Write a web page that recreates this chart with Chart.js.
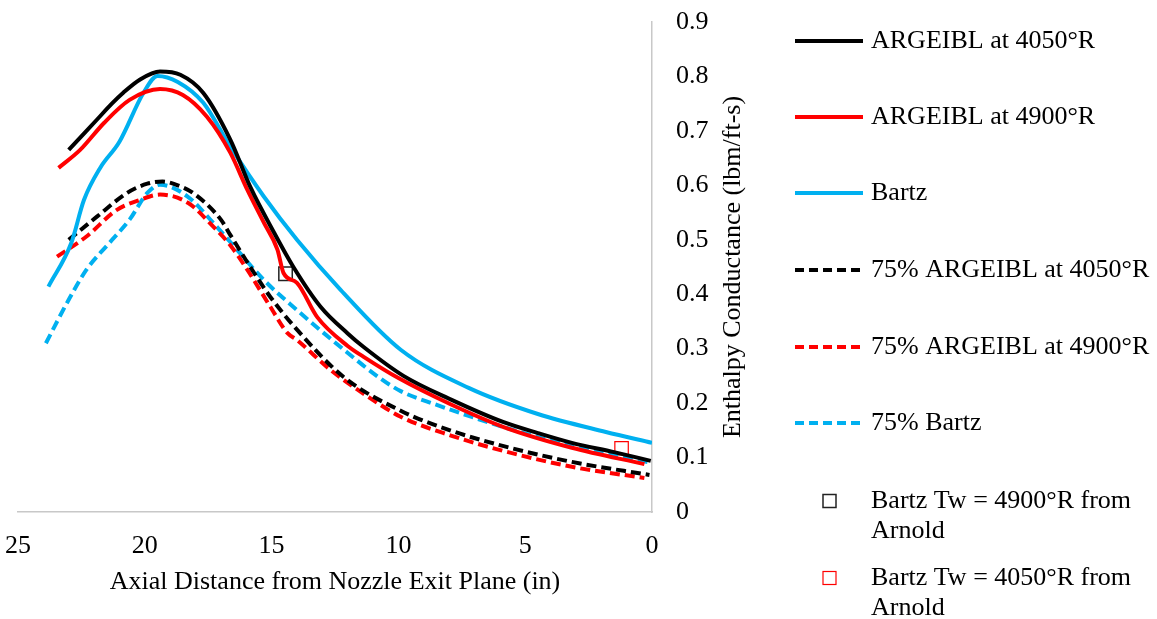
<!DOCTYPE html>
<html>
<head>
<meta charset="utf-8">
<script src="https://cdn.jsdelivr.net/npm/chart.js@4.4.1/dist/chart.umd.min.js"></script>
<style>
  html, body { margin: 0; padding: 0; background: #fff; }
  #wrap { width: 1157px; height: 619px; position: relative; }
</style>
</head>
<body>
<div id="wrap"><canvas id="chart" width="1157" height="619"></canvas></div>
<script>
// axial distance (in) and enthalpy conductance (lbm/ft-s)
const argeibl4050X = [23.0, 22.4, 21.9, 21.3, 20.85, 20.2, 19.4, 18.6, 17.7, 16.63, 15.84, 14.9, 14.14, 13.07, 12.0, 11.37, 9.8, 7.9, 5.85, 4.5, 3.16, 1.5, 0.05];
const argeibl4050Y = [0.665, 0.695, 0.72, 0.75, 0.77, 0.794, 0.809, 0.803, 0.77, 0.684, 0.597, 0.513, 0.45, 0.377, 0.328, 0.303, 0.25, 0.206, 0.165, 0.145, 0.127, 0.11, 0.094];

const argeibl4900X = [23.4, 22.55, 21.6, 20.6, 19.4, 18.5, 17.55, 16.63, 15.96, 15.3, 14.77, 14.53, 14.0, 13.2, 12.0, 11.37, 10.0, 7.9, 5.85, 3.16, 0.3];
const argeibl4900Y = [0.632, 0.665, 0.715, 0.757, 0.777, 0.766, 0.726, 0.66, 0.592, 0.531, 0.482, 0.439, 0.421, 0.358, 0.305, 0.285, 0.246, 0.197, 0.156, 0.118, 0.088];

const bartzX = [23.8, 22.9, 22.4, 21.76, 21.0, 20.05, 19.5, 18.7, 17.7, 16.63, 15.3, 14.0, 12.28, 9.91, 7.23, 4.5, 1.82, 0];
const bartzY = [0.414, 0.494, 0.573, 0.632, 0.68, 0.77, 0.801, 0.79, 0.752, 0.671, 0.579, 0.5, 0.408, 0.298, 0.228, 0.18, 0.147, 0.127];

const argeibl4050_75X = [23.0, 21.9, 20.7, 19.9, 19.3, 18.7, 18.1, 17.0, 16.63, 15.84, 15.05, 14.0, 12.16, 9.91, 7.9, 5.85, 3.16, 0.1];
const argeibl4050_75Y = [0.5, 0.542, 0.586, 0.603, 0.607, 0.6, 0.586, 0.537, 0.509, 0.45, 0.395, 0.335, 0.248, 0.186, 0.149, 0.121, 0.092, 0.068];

const argeibl4900_75X = [23.46, 22.3, 21.1, 20.2, 19.4, 18.3, 17.3, 16.63, 15.96, 15.05, 14.38, 14.0, 12.68, 11.3, 9.91, 7.9, 5.85, 3.16, 0.3];
const argeibl4900_75Y = [0.469, 0.506, 0.555, 0.573, 0.583, 0.568, 0.524, 0.49, 0.445, 0.377, 0.329, 0.316, 0.261, 0.215, 0.175, 0.14, 0.112, 0.083, 0.0625];

const bartz75X = [23.9, 23.07, 22.3, 21.4, 20.6, 19.9, 19.4, 18.3, 17.3, 16.63, 15.3, 14.0, 12.28, 10.7, 9.91, 8.57, 5.85, 3.16, 0];
const bartz75Y = [0.31, 0.384, 0.445, 0.494, 0.537, 0.586, 0.601, 0.579, 0.531, 0.496, 0.426, 0.371, 0.303, 0.245, 0.222, 0.198, 0.156, 0.121, 0.09];

// Arnold's Bartz points
const arnold4900X = [14.45];
const arnold4900Y = [0.4375];
const arnold4050X = [1.2];
const arnold4050Y = [0.117];

const xTicks = [25, 20, 15, 10, 5, 0];
const yTicks = [0, 0.1, 0.2, 0.3, 0.4, 0.5, 0.6, 0.7, 0.8, 0.9];

const FONT = "'Liberation Serif', 'Times New Roman', serif";

function pts(xs, ys) {
    return xs.map((x, i) => ({ x: x, y: ys[i] }));
}

function lineSet(label, xs, ys, color, dashed) {
    return {
        type: 'line',
        label: label,
        data: pts(xs, ys),
        borderColor: color,
        backgroundColor: color,
        borderWidth: 4,
        borderDash: dashed ? [10, 5] : [],
        pointRadius: 0,
        cubicInterpolationMode: 'monotone',
        fill: false,
    };
}

function markerSet(label, xs, ys, color, width) {
    return {
        type: 'scatter',
        label: label,
        data: pts(xs, ys),
        pointStyle: 'rect',
        pointRadius: 9.5,
        pointBorderColor: color,
        pointBackgroundColor: 'rgba(0,0,0,0)',
        pointBorderWidth: width,
        borderColor: color,
        showLine: false,
    };
}

const datasets = [
    lineSet('ARGEIBL at 4050°R', argeibl4050X, argeibl4050Y, '#000000', false),
    lineSet('ARGEIBL at 4900°R', argeibl4900X, argeibl4900Y, '#ff0000', false),
    lineSet('Bartz', bartzX, bartzY, '#00b0f0', false),
    lineSet('75% ARGEIBL at 4050°R', argeibl4050_75X, argeibl4050_75Y, '#000000', true),
    lineSet('75% ARGEIBL at 4900°R', argeibl4900_75X, argeibl4900_75Y, '#ff0000', true),
    lineSet('75% Bartz', bartz75X, bartz75Y, '#00b0f0', true),
    markerSet('Bartz Tw = 4900°R from|Arnold', arnold4900X, arnold4900Y, '#222222', 1.5),
    markerSet('Bartz Tw = 4050°R from|Arnold', arnold4050X, arnold4050Y, '#ff0000', 1.2),
];

// titles + the right-hand legend, drawn on the canvas
const decorations = {
    id: 'decorations',
    afterDraw(chart) {
        const ctx = chart.ctx;
        const area = chart.chartArea;
        ctx.save();
        ctx.fillStyle = '#000';
        ctx.font = '26px ' + FONT;
        ctx.textBaseline = 'middle';

        // x title
        ctx.textAlign = 'center';
        ctx.fillText('Axial Distance from Nozzle Exit Plane (in)', (area.left + area.right) / 2, 582);

        // y title (reads bottom to top)
        ctx.save();
        ctx.translate(733, (area.top + area.bottom) / 2);
        ctx.rotate(-Math.PI / 2);
        ctx.fillText('Enthalpy Conductance (lbm/ft-s)', 0, 0);
        ctx.restore();

        // legend
        const rows = [41, 117, 193, 270, 347, 423, 501, 578];
        ctx.textAlign = 'left';
        chart.data.datasets.forEach((ds, i) => {
            const y = rows[i];
            if (ds.type === 'line') {
                ctx.save();
                ctx.strokeStyle = ds.borderColor;
                ctx.lineWidth = 4;
                ctx.setLineDash(ds.borderDash.length ? [9, 5] : []);
                ctx.beginPath();
                ctx.moveTo(795, y);
                ctx.lineTo(863, y);
                ctx.stroke();
                ctx.restore();
            } else {
                ctx.save();
                ctx.strokeStyle = ds.pointBorderColor;
                ctx.lineWidth = ds.pointBorderWidth;
                ctx.strokeRect(823, y - 6.5, 13, 13);
                ctx.restore();
            }
            const lines = ds.label.split('|');
            lines.forEach((t, k) => ctx.fillText(t, 871, y + k * 30));
        });
        ctx.restore();
    }
};

new Chart(document.getElementById('chart').getContext('2d'), {
    data: { datasets: datasets },
    options: {
        responsive: false,
        animation: false,
        layout: { padding: { left: 18, top: 22, right: 385, bottom: 47 } },
        plugins: {
            legend: { display: false },
            tooltip: { enabled: false },
        },
        scales: {
            x: {
                type: 'linear',
                position: 'bottom',
                reverse: true,
                min: 0,
                max: 25,
                afterBuildTicks: (scale) => { scale.ticks = xTicks.map(v => ({ value: v })); },
                afterFit: (scale) => {
                    scale.height = 60;
                    scale.paddingLeft = 0;
                    scale.paddingRight = 0;
                },
                ticks: {
                    color: '#000',
                    font: { family: FONT, size: 26 },
                    padding: 19,
                    maxRotation: 0,
                },
                grid: { drawOnChartArea: false, drawTicks: false },
                border: { display: true, color: '#c8c8c8', width: 1.5 },
            },
            y: {
                type: 'linear',
                position: 'right',
                min: 0,
                max: 0.9,
                afterBuildTicks: (scale) => { scale.ticks = yTicks.map(v => ({ value: v })); },
                afterFit: (scale) => {
                    scale.width = 120;
                    scale.paddingTop = 0;
                    scale.paddingBottom = 0;
                },
                ticks: {
                    color: '#000',
                    font: { family: FONT, size: 26 },
                    padding: 24,
                    callback: (v) => String(Math.round(v * 10) / 10),
                },
                grid: { drawOnChartArea: false, drawTicks: false },
                border: { display: true, color: '#c8c8c8', width: 1.5 },
            },
        },
    },
    plugins: [decorations],
});
</script>
</body>
</html>
